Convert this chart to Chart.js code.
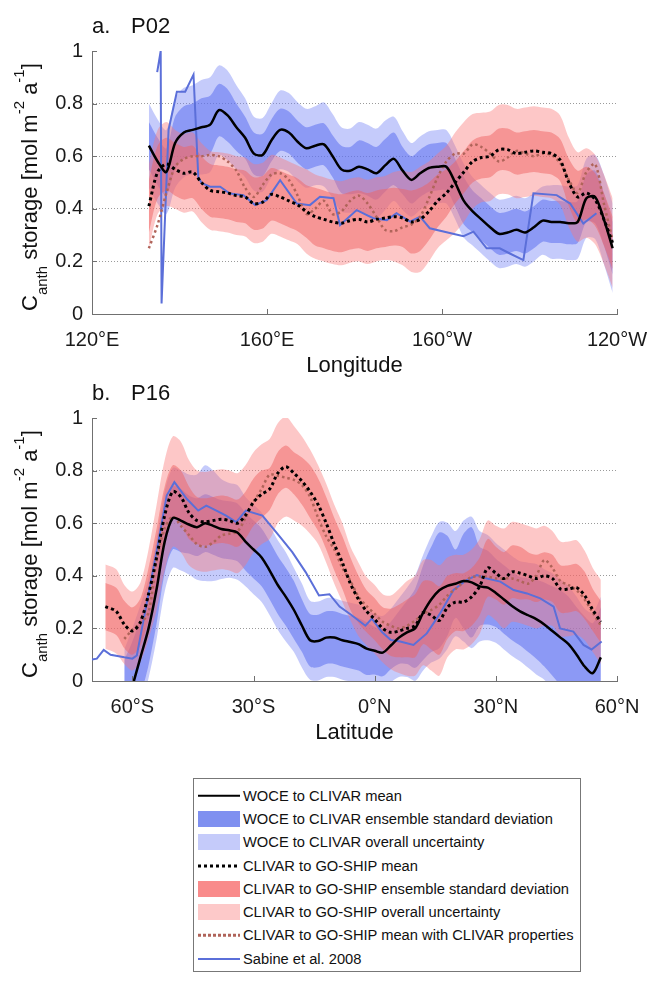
<!DOCTYPE html>
<html>
<head>
<meta charset="utf-8">
<script src="https://cdn.jsdelivr.net/npm/chart.js@4.4.0/dist/chart.umd.min.js"></script>
<style>
  body { margin: 0; background: #fff; width: 648px; height: 981px; position: relative; overflow: hidden;
         font-family: "Liberation Sans", Arial, Helvetica, sans-serif; }
  .panel { position: absolute; left: 0; width: 648px; height: 380px; }
  #legend { position: absolute; left: 193px; top: 778px; width: 388px; height: 194px; box-sizing: border-box;
            border: 1px solid #777; padding-top: 5px; background: #fff; }
  .row { height: 23.3px; display: flex; align-items: center; font-size: 14.7px; color: #111; white-space: nowrap; }
  .sw { width: 42px; height: 16px; margin: 0 3px 0 4px; position: relative; flex: none; }
  .ln { position: absolute; left: 0; right: 0; top: 50%; transform: translateY(-50%); }
</style>
</head>
<body>
<div class="panel" style="top:0"><canvas id="chartA" width="648" height="380"></canvas></div>
<div class="panel" style="top:380px"><canvas id="chartB" width="648" height="380"></canvas></div>
<div id="legend"></div>

<script>
// ---- panel a: P02 (longitude, degrees east) ----
const lonA = [133, 135, 137, 139, 141, 143, 145, 147, 149, 151, 153, 155, 157, 159, 161, 163, 165, 167, 169, 171,
  173, 175, 177, 179, 181, 183, 185, 187, 189, 191, 193, 195, 197, 199, 201, 203, 205, 207, 209, 211,
  213, 215, 217, 219, 221, 223, 225, 227, 229, 231, 233, 235, 237, 239];
const woceMeanA = [0.64, 0.58, 0.54, 0.65, 0.69, 0.70, 0.71, 0.72, 0.775, 0.755, 0.71, 0.67, 0.61, 0.605, 0.66, 0.70, 0.69, 0.655, 0.63, 0.64,
  0.645, 0.60, 0.55, 0.545, 0.56, 0.55, 0.535, 0.565, 0.59, 0.545, 0.51, 0.535, 0.555, 0.56, 0.56, 0.50, 0.43, 0.39, 0.36, 0.33,
  0.305, 0.31, 0.32, 0.31, 0.33, 0.355, 0.35, 0.35, 0.345, 0.35, 0.44, 0.445, 0.36, 0.25];
const woceSdA = [0.09, 0.09, 0.09, 0.10, 0.10, 0.10, 0.11, 0.11, 0.10, 0.10, 0.09, 0.08, 0.08, 0.08, 0.08, 0.08, 0.08, 0.08, 0.08, 0.08,
  0.08, 0.08, 0.09, 0.09, 0.10, 0.10, 0.10, 0.10, 0.10, 0.09, 0.09, 0.09, 0.09, 0.09, 0.09, 0.09, 0.09, 0.08, 0.08, 0.08,
  0.08, 0.08, 0.08, 0.08, 0.08, 0.08, 0.08, 0.08, 0.08, 0.08, 0.09, 0.10, 0.10, 0.10];
const woceUncA = [0.16, 0.16, 0.16, 0.17, 0.17, 0.17, 0.18, 0.18, 0.17, 0.17, 0.16, 0.15, 0.14, 0.14, 0.14, 0.15, 0.15, 0.15, 0.15, 0.15,
  0.16, 0.16, 0.16, 0.16, 0.17, 0.17, 0.17, 0.17, 0.16, 0.15, 0.14, 0.14, 0.14, 0.14, 0.14, 0.14, 0.14, 0.13, 0.13, 0.13,
  0.13, 0.13, 0.13, 0.13, 0.13, 0.13, 0.14, 0.14, 0.14, 0.14, 0.15, 0.16, 0.17, 0.17];
const clivarMeanA = [0.41, 0.54, 0.57, 0.55, 0.535, 0.54, 0.50, 0.47, 0.465, 0.46, 0.45, 0.445, 0.42, 0.425, 0.455, 0.445, 0.43, 0.415, 0.39, 0.37,
  0.36, 0.35, 0.345, 0.355, 0.36, 0.35, 0.36, 0.365, 0.37, 0.365, 0.35, 0.36, 0.39, 0.43, 0.46, 0.50, 0.54, 0.58, 0.595, 0.60,
  0.625, 0.625, 0.61, 0.615, 0.62, 0.615, 0.61, 0.585, 0.50, 0.445, 0.46, 0.435, 0.36, 0.27];
const clivarSdA = [0.10, 0.10, 0.10, 0.10, 0.10, 0.10, 0.10, 0.10, 0.10, 0.10, 0.10, 0.10, 0.10, 0.10, 0.10, 0.10, 0.10, 0.10, 0.10, 0.11,
  0.11, 0.11, 0.11, 0.11, 0.11, 0.11, 0.11, 0.11, 0.11, 0.11, 0.12, 0.12, 0.11, 0.10, 0.09, 0.08, 0.08, 0.08, 0.08, 0.08,
  0.08, 0.08, 0.08, 0.08, 0.08, 0.08, 0.08, 0.08, 0.09, 0.10, 0.10, 0.10, 0.10, 0.10];
const clivarUncA = [0.16, 0.16, 0.16, 0.15, 0.15, 0.15, 0.15, 0.15, 0.15, 0.15, 0.15, 0.15, 0.15, 0.15, 0.15, 0.15, 0.15, 0.15, 0.16, 0.16,
  0.16, 0.16, 0.16, 0.16, 0.16, 0.16, 0.16, 0.16, 0.17, 0.18, 0.19, 0.20, 0.19, 0.18, 0.18, 0.19, 0.19, 0.18, 0.17, 0.17,
  0.17, 0.17, 0.17, 0.17, 0.17, 0.17, 0.17, 0.17, 0.17, 0.17, 0.17, 0.17, 0.17, 0.17];
const clivarPropsA = [0.25, 0.34, 0.46, 0.56, 0.59, 0.60, 0.60, 0.605, 0.60, 0.58, 0.545, 0.48, 0.445, 0.49, 0.53, 0.535, 0.51, 0.45, 0.38, 0.40,
  0.43, 0.38, 0.39, 0.43, 0.45, 0.42, 0.37, 0.32, 0.315, 0.33, 0.34, 0.37, 0.44, 0.52, 0.58, 0.61, 0.61, 0.645, 0.635, 0.61,
  0.58, 0.595, 0.62, 0.61, 0.60, 0.61, 0.605, 0.575, 0.51, 0.46, 0.54, 0.57, 0.42, 0.28];
const sabineLonA = [134.9, 135.7, 135.9, 137.5, 139.4, 141.3, 143.2, 144.3, 145.1, 147, 149.3, 151.5, 154.6, 157.3, 159.9, 163, 166.8,
  169.8, 172.1, 175.2, 176.7, 180.5, 184.3, 187.4, 189.6, 192.7, 195, 197.2, 204.9, 207.2, 210.2, 213.2, 215.5, 218.6,
  220.9, 226.2, 229.3, 232.3, 235.3];
const sabineA = [0.92, 1.0, 0.04, 0.70, 0.845, 0.845, 0.91, 0.52, 0.497, 0.484, 0.484, 0.458, 0.452, 0.414, 0.433, 0.509, 0.42,
  0.414, 0.446, 0.44, 0.338, 0.395, 0.364, 0.357, 0.383, 0.351, 0.37, 0.326, 0.296, 0.313, 0.25, 0.25, 0.23, 0.205,
  0.459, 0.452, 0.42, 0.344, 0.383];
const lonTicks = [120, 160, 200, 240];
const lonTickLabels = ['120°E', '160°E', '160°W', '120°W'];

// ---- panel b: P16 (latitude, degrees north) ----
const latB = [-66.7, -64, -62, -60, -58, -56, -54, -52, -50, -48, -46, -44, -42, -40, -38, -36, -34, -32, -30, -28,
  -26, -24, -22, -20, -18, -16, -14, -12, -10, -8, -6, -4, -2, 0, 2, 4, 6, 8, 10, 12,
  14, 16, 18, 20, 22, 24, 26, 28, 30, 32, 34, 36, 38, 40, 42, 44, 46, 48, 50, 52, 54, 56];
const woceMeanB = [null, null, -0.12, -0.02, 0.09, 0.20, 0.35, 0.53, 0.62, 0.61, 0.595, 0.585, 0.60, 0.59, 0.578, 0.573, 0.565, 0.53, 0.50, 0.47,
  0.42, 0.365, 0.32, 0.27, 0.21, 0.155, 0.152, 0.165, 0.165, 0.155, 0.148, 0.14, 0.123, 0.115, 0.108, 0.135, 0.165, 0.185, 0.20, 0.26,
  0.31, 0.345, 0.362, 0.37, 0.38, 0.375, 0.36, 0.355, 0.335, 0.31, 0.285, 0.265, 0.25, 0.235, 0.215, 0.19, 0.165, 0.14, 0.10, 0.055, 0.03, 0.09];
const woceSdB = [null, null, 0.20, 0.17, 0.15, 0.14, 0.13, 0.12, 0.12, 0.12, 0.11, 0.11, 0.11, 0.11, 0.11, 0.11, 0.11, 0.11, 0.11, 0.11,
  0.11, 0.11, 0.11, 0.11, 0.10, 0.10, 0.10, 0.10, 0.10, 0.10, 0.10, 0.10, 0.10, 0.09, 0.09, 0.09, 0.10, 0.12, 0.15, 0.18,
  0.20, 0.22, 0.19, 0.13, 0.18, 0.21, 0.15, 0.14, 0.13, 0.13, 0.13, 0.13, 0.14, 0.15, 0.16, 0.17, 0.18, 0.18, 0.18, 0.19, 0.19, 0.19];
const woceUncB = [null, null, 0.24, 0.22, 0.20, 0.19, 0.19, 0.19, 0.19, 0.19, 0.19, 0.20, 0.22, 0.21, 0.19, 0.18, 0.18, 0.17, 0.17, 0.17,
  0.17, 0.17, 0.17, 0.16, 0.16, 0.15, 0.15, 0.15, 0.15, 0.15, 0.15, 0.15, 0.15, 0.14, 0.14, 0.14, 0.15, 0.17, 0.20, 0.22,
  0.24, 0.26, 0.24, 0.20, 0.23, 0.25, 0.21, 0.20, 0.19, 0.19, 0.19, 0.19, 0.20, 0.21, 0.21, 0.22, 0.22, 0.22, 0.22, 0.22, 0.23, 0.23];
const clivarMeanB = [0.283, 0.265, 0.215, 0.19, 0.225, 0.33, 0.47, 0.63, 0.72, 0.70, 0.64, 0.61, 0.605, 0.61, 0.615, 0.61, 0.60, 0.63, 0.68, 0.71,
  0.73, 0.79, 0.815, 0.79, 0.76, 0.72, 0.67, 0.60, 0.52, 0.45, 0.37, 0.31, 0.265, 0.235, 0.20, 0.185, 0.19, 0.20, 0.21, 0.26,
  0.25, 0.23, 0.28, 0.30, 0.30, 0.32, 0.36, 0.43, 0.41, 0.39, 0.415, 0.41, 0.40, 0.39, 0.40, 0.39, 0.35, 0.35, 0.355, 0.325, 0.27, 0.225];
const clivarSdB = [0.09, 0.09, 0.09, 0.09, 0.09, 0.10, 0.11, 0.11, 0.10, 0.10, 0.10, 0.09, 0.09, 0.09, 0.09, 0.09, 0.09, 0.09, 0.09, 0.09,
  0.08, 0.08, 0.08, 0.08, 0.09, 0.10, 0.10, 0.10, 0.10, 0.10, 0.10, 0.09, 0.08, 0.08, 0.08, 0.09, 0.10, 0.11, 0.12, 0.12,
  0.13, 0.13, 0.12, 0.11, 0.11, 0.11, 0.11, 0.11, 0.10, 0.10, 0.10, 0.10, 0.09, 0.09, 0.09, 0.09, 0.09, 0.09, 0.09, 0.09, 0.08, 0.08];
const clivarUncB = [0.16, 0.16, 0.15, 0.15, 0.15, 0.17, 0.20, 0.21, 0.21, 0.21, 0.20, 0.19, 0.19, 0.19, 0.19, 0.19, 0.19, 0.19, 0.19, 0.19,
  0.19, 0.19, 0.19, 0.18, 0.17, 0.16, 0.15, 0.15, 0.15, 0.15, 0.14, 0.14, 0.13, 0.13, 0.13, 0.14, 0.16, 0.18, 0.19, 0.20,
  0.21, 0.21, 0.19, 0.18, 0.18, 0.18, 0.18, 0.18, 0.18, 0.19, 0.19, 0.19, 0.19, 0.19, 0.19, 0.18, 0.18, 0.18, 0.18, 0.17, 0.16, 0.16];
const clivarPropsB = [null, null, 0.16, 0.195, 0.22, 0.26, 0.46, 0.58, 0.625, 0.59, 0.555, 0.52, 0.51, 0.527, 0.553, 0.56, 0.568, 0.62, 0.68, 0.73,
  0.785, 0.78, 0.773, 0.765, 0.745, 0.70, 0.62, 0.55, 0.50, 0.43, 0.38, 0.32, 0.285, 0.255, 0.225, 0.21, 0.20, 0.21, 0.23, 0.255,
  0.27, 0.29, 0.325, 0.35, 0.375, 0.395, 0.397, 0.397, 0.39, 0.39, 0.39, 0.38, 0.37, 0.40, 0.46, 0.43, 0.38, 0.365, 0.345, 0.31, 0.26, 0.21];
const sabineLatB = [-70, -68.8, -67.1, -65.4, -62, -60, -58.9, -56.4, -53.9, -51.5, -49.6, -46.5, -43.7, -41.7, -39.2, -36.8, -34.3,
  -31.9, -27.8, -23.7, -20.4, -17.1, -13.8, -11.2, -8.7, -5.6, -2.3, -0.7, 1.8, 4.0, 6.3, 9.6, 12.9, 16.2, 19.5, 22.8,
  25.3, 27.8, 31.1, 34.4, 37.7, 41.0, 44.3, 45.9, 49.2, 51.7, 53.7, 56.2];
const sabineB = [0.082, 0.085, 0.118, 0.10, 0.09, 0.085, 0.097, 0.30, 0.502, 0.705, 0.756, 0.692, 0.648, 0.667, 0.648, 0.629, 0.604,
  0.648, 0.629, 0.553, 0.49, 0.414, 0.325, 0.33, 0.283, 0.249, 0.21, 0.237, 0.186, 0.156, 0.15, 0.137, 0.181, 0.257, 0.346, 0.384,
  0.403, 0.39, 0.378, 0.346, 0.333, 0.314, 0.283, 0.2, 0.188, 0.137, 0.12, 0.15];
const latTicks = [-60, -30, 0, 30, 60];
const latTickLabels = ['60°S', '30°S', '0°N', '30°N', '60°N'];

const yTicks = [0, 0.2, 0.4, 0.6, 0.8, 1];

const FONT = '"Liberation Sans", Arial, Helvetica, sans-serif';
Chart.defaults.font.family = FONT;

const BLUE_SD = 'rgba(90,110,240,0.53)';
const BLUE_UNC = 'rgba(110,125,245,0.40)';
const RED_SD = 'rgba(240,100,100,0.50)';
const RED_UNC = 'rgba(250,120,120,0.41)';
const SABINE = '#5b6fd9';
const BROWN = '#b0645a';

const pts = (xs, ys) => xs.map((x, i) => ({ x, y: ys[i] }));
const edge = (xs, m, w, s) => xs.map((x, i) => ({ x, y: m[i] == null ? null : m[i] + s * w[i] }));

function band(xs, mean, hw, color, order) {
  const base = { borderColor: 'rgba(0,0,0,0)', borderWidth: 0, pointRadius: 0, tension: 0.3, order };
  return [
    Object.assign({ data: edge(xs, mean, hw, 1), fill: '+1', backgroundColor: color }, base),
    Object.assign({ data: edge(xs, mean, hw, -1), fill: false }, base)
  ];
}

// y title with subscript / superscripts, drawn rotated
const yTitleParts = [
  { t: 'C', size: 22, dy: 0 },
  { t: 'anth', size: 15, dy: 10 },
  { t: ' storage [mol m', size: 22, dy: 0 },
  { t: '-2', size: 15, dy: -13 },
  { t: ' a', size: 22, dy: 0 },
  { t: '-1', size: 15, dy: -13 },
  { t: ']', size: 22, dy: 0 }
];

const panelDecor = {
  id: 'panelDecor',
  afterDraw(chart, args, o) {
    const { ctx, chartArea: a, scales: { x, y } } = chart;
    ctx.save();
    // inward tick marks
    ctx.strokeStyle = '#707070';
    ctx.lineWidth = 1;
    ctx.beginPath();
    y.ticks.forEach(t => {
      const py = Math.round(y.getPixelForValue(t.value)) + 0.5;
      ctx.moveTo(a.left, py); ctx.lineTo(a.left + 5, py);
    });
    x.ticks.forEach(t => {
      const px = Math.round(x.getPixelForValue(t.value)) + 0.5;
      ctx.moveTo(px, a.bottom); ctx.lineTo(px, a.bottom - 5);
    });
    ctx.stroke();

    ctx.fillStyle = '#111';
    ctx.textBaseline = 'alphabetic';
    ctx.font = '22px ' + FONT;
    ctx.textAlign = 'left';
    ctx.fillText(o.letter, a.left, a.top - 18);
    ctx.fillText(o.name, a.left + 39, a.top - 18);
    ctx.textAlign = 'center';
    ctx.fillText(o.xTitle, (a.left + a.right) / 2, a.bottom + 58);

    ctx.translate(37, a.bottom - 3);
    ctx.rotate(-Math.PI / 2);
    ctx.textAlign = 'left';
    let cx = 0;
    yTitleParts.forEach(p => {
      ctx.font = p.size + 'px ' + FONT;
      ctx.fillText(p.t, cx, p.dy);
      cx += ctx.measureText(p.t).width;
    });
    ctx.restore();
  }
};

function makePanel(id, p) {
  const datasets = [
    { data: pts(p.xs, p.woceMean), borderColor: '#000', borderWidth: 2.5, pointRadius: 0, tension: 0.3, fill: false, order: 0 },
    { data: pts(p.xs, p.clivarMean), borderColor: '#000', borderWidth: 3, borderDash: [3, 3], pointRadius: 0, tension: 0.3, fill: false, order: 1 },
    { data: pts(p.xs, p.clivarProps), borderColor: BROWN, borderWidth: 2.5, borderDash: [2.5, 3], pointRadius: 0, tension: 0.3, fill: false, order: 2 },
    { data: pts(p.sabineXs, p.sabine), borderColor: SABINE, borderWidth: 2, pointRadius: 0, tension: 0, fill: false, order: 3 },
    ...band(p.xs, p.clivarMean, p.clivarSd, RED_SD, 4),
    ...band(p.xs, p.clivarMean, p.clivarUnc, RED_UNC, 5),
    ...band(p.xs, p.woceMean, p.woceSd, BLUE_SD, 6),
    ...band(p.xs, p.woceMean, p.woceUnc, BLUE_UNC, 7)
  ];
  return new Chart(document.getElementById(id), {
    type: 'line',
    data: { datasets },
    options: {
      responsive: false,
      animation: false,
      devicePixelRatio: 1,
      events: [],
      layout: { padding: { top: p.padTop, right: 31, left: 0, bottom: 0 } },
      plugins: {
        legend: { display: false },
        tooltip: { enabled: false },
        panelDecor: { letter: p.letter, name: p.name, xTitle: p.xTitle }
      },
      scales: {
        x: {
          type: 'linear', min: p.xMin, max: p.xMax,
          afterBuildTicks: s => { s.ticks = p.xTicks.map(v => ({ value: v })); },
          // fixed axis height; edge labels may overhang into the page margins
          afterFit: s => { s.height = p.xAxisH; s.paddingLeft = 0; s.paddingRight = 0; },
          ticks: {
            callback: (v, i) => p.xTickLabels[i],
            font: { size: 20 }, color: '#1a1a1a', padding: 6, maxRotation: 0, autoSkip: false
          },
          grid: { display: false },
          border: { color: '#707070' }
        },
        y: {
          min: 0, max: 1,
          afterBuildTicks: s => { s.ticks = yTicks.map(v => ({ value: v })); },
          afterFit: s => { s.width = 92; },
          ticks: { callback: v => String(v), font: { size: 20 }, color: '#1a1a1a', padding: 9 },
          grid: {
            drawTicks: false, lineWidth: 1,
            color: c => (c.tick && c.tick.value > 0.01 && c.tick.value < 0.99) ? '#9a9a9a' : 'rgba(0,0,0,0)'
          },
          border: { color: '#707070', dash: [1, 2] }
        }
      }
    },
    plugins: [panelDecor]
  });
}

makePanel('chartA', {
  xs: lonA, woceMean: woceMeanA, woceSd: woceSdA, woceUnc: woceUncA,
  clivarMean: clivarMeanA, clivarSd: clivarSdA, clivarUnc: clivarUncA, clivarProps: clivarPropsA,
  sabineXs: sabineLonA, sabine: sabineA,
  xMin: 120, xMax: 240, xTicks: lonTicks, xTickLabels: lonTickLabels,
  padTop: 51, xAxisH: 66, letter: 'a.', name: 'P02', xTitle: 'Longitude'
});

makePanel('chartB', {
  xs: latB, woceMean: woceMeanB, woceSd: woceSdB, woceUnc: woceUncB,
  clivarMean: clivarMeanB, clivarSd: clivarSdB, clivarUnc: clivarUncB, clivarProps: clivarPropsB,
  sabineXs: sabineLatB, sabine: sabineB,
  xMin: -70, xMax: 60, xTicks: latTicks, xTickLabels: latTickLabels,
  padTop: 38, xAxisH: 79, letter: 'b.', name: 'P16', xTitle: 'Latitude'
});

// legend below the panels
const legendItems = [
  { label: 'WOCE to CLIVAR mean', kind: 'line', color: '#000', width: 2.5 },
  { label: 'WOCE to CLIVAR ensemble standard deviation', kind: 'patch', color: '#7f90f0' },
  { label: 'WOCE to CLIVAR overall uncertainty', kind: 'patch', color: '#c5cbfa' },
  { label: 'CLIVAR to GO-SHIP mean', kind: 'dots', color: '#000', width: 3 },
  { label: 'CLIVAR to GO-SHIP ensemble standard deviation', kind: 'patch', color: '#f98b8b' },
  { label: 'CLIVAR to GO-SHIP overall uncertainty', kind: 'patch', color: '#fdc9c9' },
  { label: 'CLIVAR to GO-SHIP mean with CLIVAR properties', kind: 'dots', color: BROWN, width: 2.5 },
  { label: 'Sabine et al. 2008', kind: 'line', color: SABINE, width: 2 }
];
const legend = document.getElementById('legend');
legendItems.forEach(it => {
  const row = document.createElement('div');
  row.className = 'row';
  const sw = document.createElement('div');
  sw.className = 'sw';
  if (it.kind === 'patch') {
    sw.style.background = it.color;
  } else {
    const ln = document.createElement('div');
    ln.className = 'ln';
    ln.style.height = it.width + 'px';
    ln.style.background = it.kind === 'line' ? it.color
      : `repeating-linear-gradient(to right, ${it.color} 0 ${it.width}px, transparent ${it.width}px ${it.width * 2}px)`;
    sw.appendChild(ln);
  }
  const tx = document.createElement('span');
  tx.textContent = it.label;
  row.appendChild(sw);
  row.appendChild(tx);
  legend.appendChild(row);
});
</script>
</body>
</html>
